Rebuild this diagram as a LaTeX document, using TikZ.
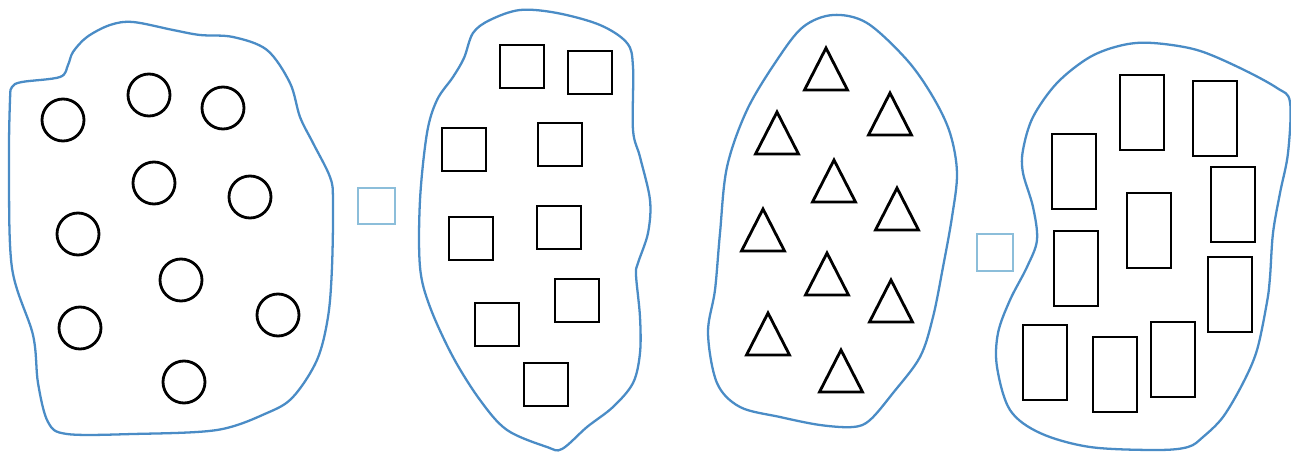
\documentclass[tikz,border=0pt]{standalone}
\usetikzlibrary{calc}
\definecolor{blobblue}{RGB}{74,140,198}
\definecolor{boxblue}{RGB}{140,190,218}
\tikzset{
  blob/.style={draw=blobblue,line width=1.3pt},
  shapeline/.style={draw=black,line width=1.6pt},
  answerbox/.style={draw=boxblue,line width=1pt},
}
\begin{document}
\begin{tikzpicture}[x=0.02cm,y=-0.02cm]
\useasboundingbox (0,0) rectangle (1291,452);
\fill[white] (0,0) rectangle (1291,452);

% Panel 1 blob
\draw[blob] plot[smooth cycle,tension=0.55] coordinates {
 (12,87) (22,82) (60,77) (68,65) (73,52) (87,37) (110,25) (133,22) (173,30)
 (200,35) (233,37) (267,50) (290,83) (300,117) (313,143) (330,177) (333,200)
 (332,267) (328,317) (317,360) (293,397) (267,413) (217,430) (133,434)
 (67,434) (48,422) (38,383) (33,335) (12,268) (9,167) (10,100)};

% circles
\foreach \p in {(63,120),(149,95),(223,108),(154,183),(250,197),(78,234),(181,280),(80,328),(278,315),(184,382)}
  \draw[shapeline] \p circle[radius=0.42cm];

% answer box 1
\draw[answerbox] (358,188) rectangle (395,224);

% Panel 2 blob
\draw[blob] plot[smooth cycle,tension=0.55] coordinates {
 (520,10) (557,13) (600,25) (627,43) (633,67) (633,130) (640,157) (650,200)
 (648,233) (638,263) (636,275) (640,317) (640,353) (633,383) (613,407)
 (587,427) (562,449) (547,447) (507,430) (480,400) (453,357) (430,307)
 (420,267) (420,200) (427,133) (437,100) (453,77) (464,58) (473,33) (490,20)};

% squares
\foreach \a/\b in {500/45,568/51,442/128,538/123,449/217,537/206,475/303,555/279,524/363}
  \draw[shapeline] (\a,\b) rectangle ++(44,43);

% Panel 3 blob
\draw[blob] plot[smooth cycle,tension=0.55] coordinates {
 (833,15) (867,23) (907,60) (933,97) (950,133) (957,173) (952,217) (943,267)
 (933,317) (920,357) (893,393) (870,420) (853,427) (820,425) (780,417)
 (740,407) (717,383) (708,333) (715,290) (720,233) (727,167) (747,110)
 (777,60) (803,27)};

% triangles
\foreach \a/\b in {826/48,890/93,777/112,834/160,897/188,763/209,827/253,891/280,768/313,841/350}
  \draw[shapeline,line join=miter] (\a,\b) -- ++(21.5,42) -- ++(-43,0) -- cycle;

% answer box 2
\draw[answerbox] (977,234) rectangle (1013,271);

% Panel 4 blob
\draw[blob] plot[smooth cycle,tension=0.55] coordinates {
 (1153,43) (1197,50) (1240,68) (1277,88) (1290,102) (1288,153) (1280,193)
 (1273,233) (1270,277) (1267,302) (1257,350) (1243,383) (1223,417)
 (1203,437) (1188,447) (1157,450) (1090,447) (1040,433) (1010,410)
 (997,367) (998,333) (1010,300) (1027,267) (1037,240) (1033,207)
 (1023,173) (1023,150) (1033,117) (1057,83) (1090,57) (1123,45)};

% rectangles
\foreach \a/\b in {1120/75,1193/81,1052/134,1211/167,1127/193,1054/231,1208/257,1023/325,1093/337,1151/322}
  \draw[shapeline] (\a,\b) rectangle ++(44,75);
\end{tikzpicture}
\end{document}
